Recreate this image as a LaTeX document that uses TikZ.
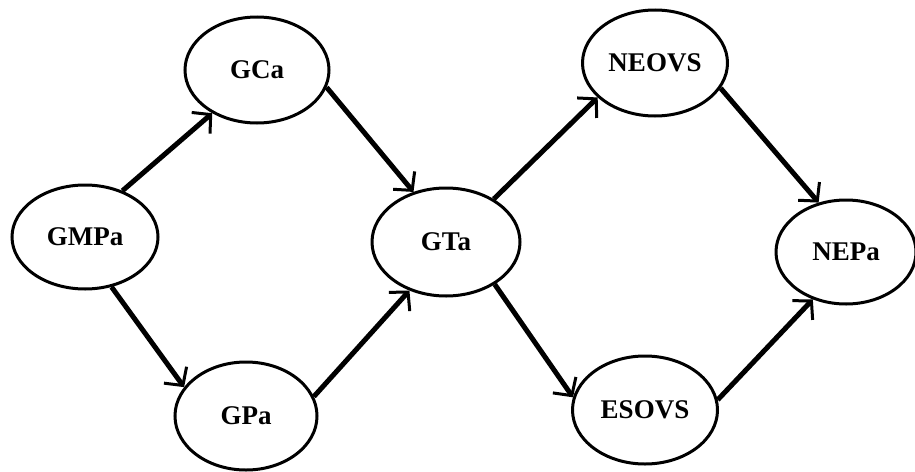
\documentclass[tikz,border=0pt]{standalone}
\usepackage{fontspec}
\setmainfont{Liberation Serif}
\usetikzlibrary{shapes.geometric,arrows.meta}
\begin{document}
\begin{tikzpicture}[x=1pt,y=-1pt,
  ell/.style={draw, ellipse, line width=3pt, inner sep=0pt, font=\bfseries\fontsize{27}{30}\selectfont},
  conn/.style={line width=5pt, -{Straight Barb[length=13pt,width=28pt,line width=3pt]}}]
\useasboundingbox (0,0) rectangle (915,471);
\node[ell, minimum width=146pt, minimum height=104pt] (gmpa) at (85,237) {GMPa};
\node[ell, minimum width=144pt, minimum height=106pt] (gca) at (257,70) {GCa};
\node[ell, minimum width=142pt, minimum height=108pt] (gpa) at (246,416) {GPa};
\node[ell, minimum width=148pt, minimum height=108pt] (gta) at (446,242) {GTa};
\node[ell, minimum width=145pt, minimum height=106pt] (neovs) at (655,63) {NEOVS};
\node[ell, minimum width=145pt, minimum height=108pt] (esovs) at (645,410) {ESOVS};
\node[ell, minimum width=140pt, minimum height=104pt] (nepa) at (846,252) {NEPa};
\draw[conn] (gmpa.51) -- (gca.224);
\draw[conn] (gmpa.-62) -- (gpa.155);
\draw[conn] (gca.-14) -- (gta.123);
\draw[conn] (gpa.16) -- (gta.233);
\draw[conn] (gta.42) -- (neovs.211);
\draw[conn] (gta.-41) -- (esovs.170);
\draw[conn] (neovs.-21) -- (nepa.119);
\draw[conn] (esovs.8) -- (nepa.235);
\end{tikzpicture}
\end{document}
